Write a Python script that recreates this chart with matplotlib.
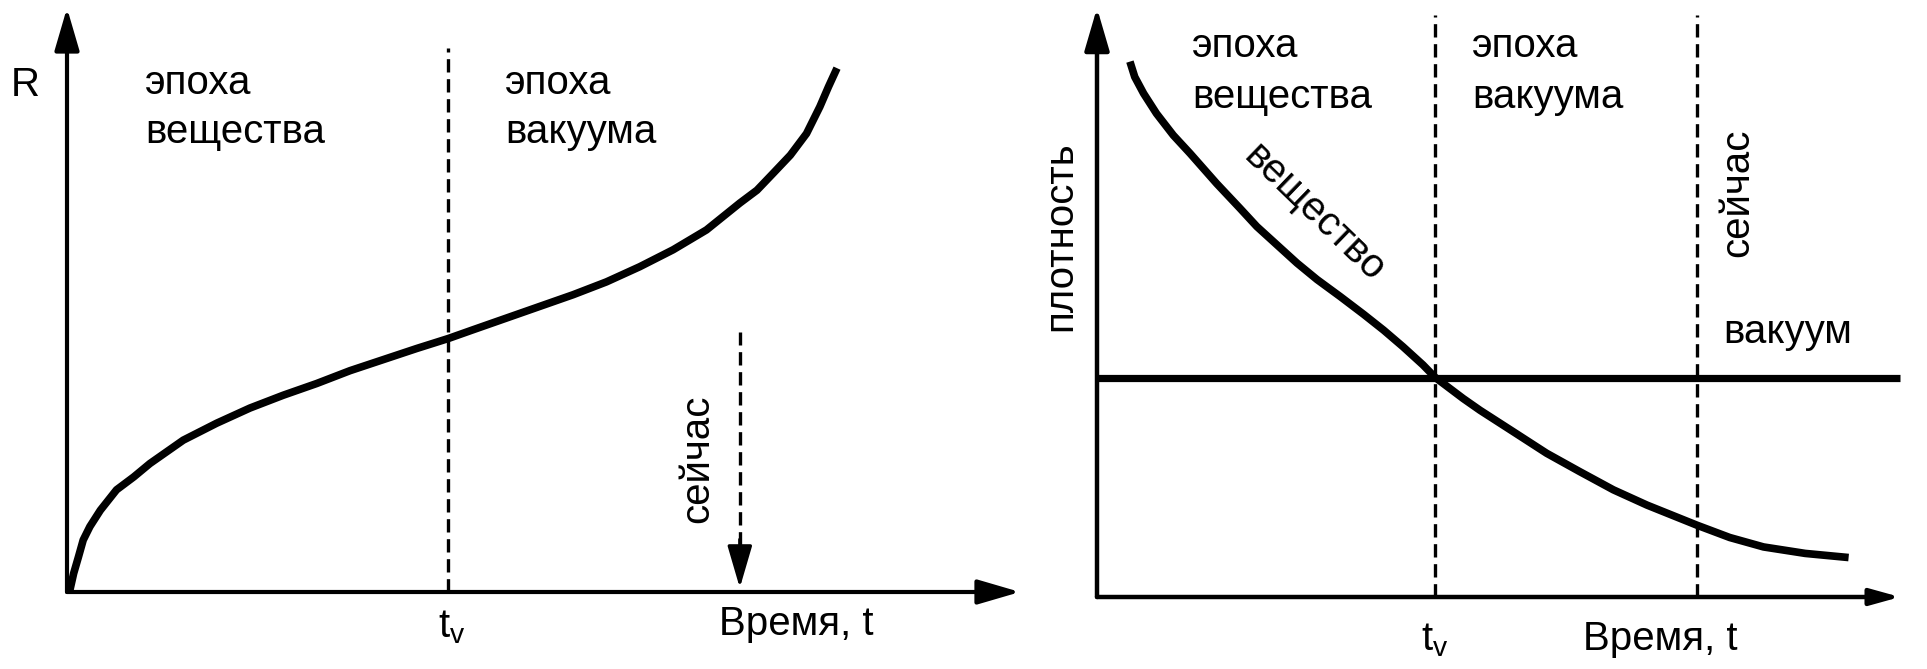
import matplotlib
matplotlib.use("Agg")
import matplotlib.pyplot as plt

plt.rcParams['font.family'] = ['Liberation Sans', 'DejaVu Sans']
plt.rcParams['mathtext.fontset'] = 'custom'
plt.rcParams['mathtext.rm'] = 'Liberation Sans'

# left panel: scale factor R(t) (axes run 0..10)
r_time = [0.03, 0.07, 0.12, 0.17, 0.24, 0.35, 0.52, 0.70, 0.87, 1.22, 1.57, 1.92,
          2.27, 2.62, 2.97, 3.32, 3.67, 4.00, 4.26, 4.61, 4.96, 5.31, 5.66, 6.01,
          6.36, 6.71, 7.06, 7.24, 7.41, 7.59, 7.76, 7.90, 7.99, 8.08]
r_value = [0.03, 0.32, 0.60, 0.89, 1.12, 1.40, 1.75, 1.97, 2.20, 2.60, 2.89, 3.15,
           3.37, 3.57, 3.79, 3.98, 4.17, 4.34, 4.49, 4.69, 4.89, 5.09, 5.31, 5.57,
           5.86, 6.20, 6.66, 6.88, 7.17, 7.48, 7.85, 8.31, 8.65, 8.97]
t_v_left = 4.0
now_left = 7.06

# right panel: densities of matter and vacuum
m_time = [0.41, 0.47, 0.58, 0.74, 0.95, 1.16, 1.49, 1.78, 1.99, 2.24, 2.49, 2.74,
          3.03, 3.32, 3.57, 3.81, 4.06, 4.21, 4.56, 4.77, 5.18, 5.60, 6.01, 6.43,
          6.85, 7.47, 7.88, 8.30, 8.82, 9.36]
m_density = [9.09, 8.83, 8.55, 8.21, 7.84, 7.53, 7.02, 6.60, 6.29, 5.98, 5.67, 5.39,
             5.10, 4.80, 4.53, 4.25, 3.94, 3.73, 3.37, 3.17, 2.81, 2.44, 2.13, 1.82,
             1.56, 1.22, 1.01, 0.85, 0.74, 0.67]
vac_time = [0.0, 10.0]
vac_density = [3.72, 3.72]
t_v_right = 4.21
now_right = 7.47

FS = 29
big_head = '-|>,head_length=1.3,head_width=0.38'


def head(ax, start, end, style=big_head, lw=3.0):
    ax.annotate('', xy=end, xytext=start,
                arrowprops=dict(arrowstyle=style, color='k', lw=lw,
                                mutation_scale=20, shrinkA=0, shrinkB=0))


fig = plt.figure(figsize=(19.27, 6.69), dpi=100)
ax1 = fig.add_axes([67 / 1927, 77 / 669, 953 / 1927, 584 / 669])
ax2 = fig.add_axes([1097 / 1927, 72 / 669, 803 / 1927, 589 / 669])

for ax in (ax1, ax2):
    ax.set_xlim(0, 10)
    ax.set_ylim(0, 10)
    ax.axis('off')

# ---- left panel
head(ax1, (0, 0), (0, 10))
head(ax1, (0, 0), (10, 0))
ax1.plot([t_v_left, t_v_left], [0, 9.32], color='k', lw=2.4, dashes=(4, 2))
ax1.plot(r_time, r_value, color='k', lw=5.5, solid_capstyle='butt',
         solid_joinstyle='round', clip_on=False)
ax1.plot([now_left, now_left], [0.8, 4.45], color='k', lw=2.4, dashes=(4, 2))
head(ax1, (now_left, 0.9), (now_left, 0.07), lw=2.4)

ax1.text(-0.44, 8.68, 'R', fontsize=FS, ha='center', va='center')
ax1.text(0.82, 8.53, 'эпоха', fontsize=FS, va='baseline')
ax1.text(0.82, 7.69, 'вещества', fontsize=FS, va='baseline')
ax1.text(4.60, 8.53, 'эпоха', fontsize=FS, va='baseline')
ax1.text(4.60, 7.69, 'вакуума', fontsize=FS, va='baseline')
ax1.text(6.61, 2.28, 'сейчас', fontsize=FS, rotation=90, ha='center', va='center')
ax1.text(4.04, -0.77, r'$\mathrm{t}_{\mathrm{v}}$', fontsize=FS, ha='center', va='baseline')
ax1.text(7.65, -0.74, 'Время, t', fontsize=FS, ha='center', va='baseline')

# ---- right panel
head(ax2, (0, 0), (0, 10), lw=3.2)
head(ax2, (0, 0), (10, 0), style='-|>,head_length=0.9,head_width=0.25', lw=3.2)
ax2.plot([t_v_right, t_v_right], [0, 9.88], color='k', lw=2.4, dashes=(4, 2))
ax2.plot([now_right, now_right], [0, 9.88], color='k', lw=2.4, dashes=(4, 2))
ax2.plot(vac_time, vac_density, color='k', lw=5.2, solid_capstyle='butt', clip_on=False)
ax2.plot(m_time, m_density, color='k', lw=5.5, solid_capstyle='butt',
         solid_joinstyle='round', clip_on=False)

ax2.text(-0.46, 6.13, 'плотность', fontsize=FS, rotation=90, ha='center', va='center')
ax2.text(1.18, 9.17, 'эпоха', fontsize=FS, va='baseline')
ax2.text(1.18, 8.30, 'вещества', fontsize=FS, va='baseline')
ax2.text(4.67, 9.17, 'эпоха', fontsize=FS, va='baseline')
ax2.text(4.67, 8.30, 'вакуума', fontsize=FS, va='baseline')
ax2.text(2.71, 6.52, 'вещество', fontsize=FS, rotation=-44, rotation_mode='anchor',
         ha='center', va='center')
ax2.text(7.97, 6.86, 'сейчас', fontsize=FS, rotation=90, ha='center', va='center')
ax2.text(7.80, 4.31, 'вакуум', fontsize=FS, va='baseline')
ax2.text(4.21, -0.90, r'$\mathrm{t}_{\mathrm{v}}$', fontsize=FS, ha='center', va='baseline')
ax2.text(7.01, -0.90, 'Время, t', fontsize=FS, ha='center', va='baseline')

fig.savefig('out.png', dpi=100)
